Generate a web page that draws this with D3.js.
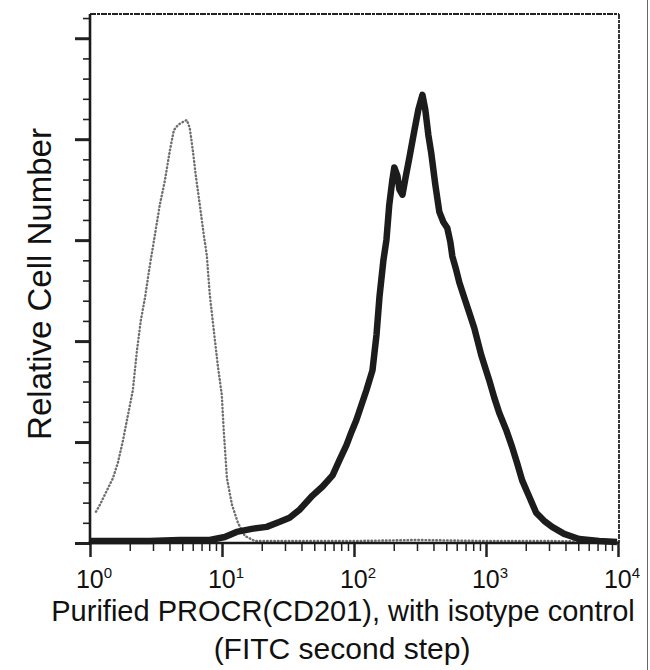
<!DOCTYPE html>
<html>
<head>
<meta charset="utf-8">
<script src="https://cdn.jsdelivr.net/npm/d3@7"></script>
<style>
  html, body { margin: 0; padding: 0; background: #fff; }
  svg { display: block; }
  text { font-family: "Liberation Sans", Arial, sans-serif; fill: #111; }
</style>
</head>
<body>
<svg id="chart" width="650" height="670"></svg>
<script>
// ---- Data ----
const xLabel1 = "Purified PROCR(CD201), with isotype control";
const xLabel2 = "(FITC second step)";
const yLabel = "Relative Cell Number";
const xTickValues = [1, 10, 100, 1000, 10000];
const xTickExponents = ["0", "1", "2", "3", "4"];
const yMajorTicks = [0, 1, 2, 3, 4, 5];

// Stained sample (black, thick)
const stainedX = [1, 1.69, 2.84, 4.79, 8.08, 10.5, 12.9, 16.8, 21.8, 27.4, 32.5, 38.7, 48.5, 57.8, 68.8, 77.6, 87.7, 95.7, 104.4, 114, 124, 138, 148, 156, 167, 176, 185, 195, 202, 213, 221, 233, 245, 263, 287, 307, 330, 347, 366, 385, 413, 443, 475, 509, 537, 556, 596, 628, 685, 747, 815, 921, 1059, 1155, 1259, 1422, 1578, 1722, 1879, 2123, 2399, 2756, 3168, 3908, 5072, 7183, 9825];
const stainedY = [0.02, 0.02, 0.02, 0.03, 0.03, 0.06, 0.11, 0.14, 0.16, 0.21, 0.25, 0.33, 0.47, 0.56, 0.67, 0.82, 0.97, 1.10, 1.22, 1.37, 1.51, 1.71, 2.06, 2.44, 2.80, 3.00, 3.35, 3.59, 3.72, 3.64, 3.50, 3.45, 3.61, 3.82, 4.09, 4.29, 4.44, 4.29, 4.04, 3.86, 3.55, 3.28, 3.18, 3.12, 2.98, 2.84, 2.70, 2.58, 2.43, 2.28, 2.13, 1.86, 1.61, 1.44, 1.29, 1.12, 0.95, 0.79, 0.62, 0.46, 0.30, 0.22, 0.16, 0.09, 0.04, 0.02, 0.01];

// Isotype control (grey, dotted)
const isoX = [1.11, 1.19, 1.32, 1.49, 1.63, 1.78, 1.94, 2.11, 2.27, 2.43, 2.61, 2.84, 3.10, 3.38, 3.69, 4.03, 4.32, 4.63, 5.05, 5.41, 5.70, 6.01, 6.33, 6.79, 7.28, 7.67, 8.08, 8.66, 9.29, 9.96, 10.3, 10.9, 11.9, 13.2, 14.9, 17.7, 30, 100, 300, 1000, 3000, 9800];
const isoY = [0.31, 0.38, 0.50, 0.64, 0.80, 1.02, 1.27, 1.51, 1.91, 2.21, 2.43, 2.75, 3.05, 3.35, 3.59, 3.89, 4.09, 4.14, 4.17, 4.19, 4.11, 3.89, 3.64, 3.35, 3.05, 2.85, 2.46, 2.11, 1.76, 1.47, 1.12, 0.64, 0.38, 0.20, 0.07, 0.02, 0.02, 0.02, 0.03, 0.02, 0.02, 0.01];

// ---- Layout ----
const svg = d3.select("#chart");
const L = 90, R = 618, T = 14, B = 543;

const x = d3.scaleLog().domain([1, 10000]).range([L, R]);
const y = d3.scaleLinear().domain([0, 5.24]).range([B, T]);

// frame top and right (thin, slightly broken)
svg.append("line").attr("x1", L).attr("x2", R + 1).attr("y1", T).attr("y2", T)
  .attr("stroke", "#222").attr("stroke-width", 1.8).attr("stroke-dasharray", "6,1,3,1");
svg.append("line").attr("x1", R + 1).attr("x2", R + 1).attr("y1", T).attr("y2", B)
  .attr("stroke", "#222").attr("stroke-width", 1.8).attr("stroke-dasharray", "5,1,3,1");

// image border at far right
svg.append("line").attr("x1", 647.5).attr("x2", 647.5).attr("y1", 0).attr("y2", 670)
  .attr("stroke", "#666").attr("stroke-width", 1);

// isotype curve
const line = d3.line().x(d => x(d[0])).y(d => y(d[1])).curve(d3.curveLinear);
svg.append("path")
  .datum(isoX.map((v, i) => [v, isoY[i]]))
  .attr("d", line)
  .attr("fill", "none")
  .attr("stroke", "#6e6e6e")
  .attr("stroke-width", 2.4)
  .attr("stroke-linecap", "round")
  .attr("stroke-dasharray", "0.6,3");

// stained curve
svg.append("path")
  .datum(stainedX.map((v, i) => [v, stainedY[i]]))
  .attr("d", line)
  .attr("fill", "none")
  .attr("stroke", "#1c1c1c")
  .attr("stroke-width", 6.5)
  .attr("stroke-linejoin", "round");

// X axis
const xMinor = [];
for (let e = 0; e < 4; e++) for (let k = 2; k <= 9; k++) xMinor.push(k * Math.pow(10, e));
const xAxisMinor = d3.axisBottom(x).tickValues(xMinor).tickSize(8).tickFormat("");
const xAxisMajor = d3.axisBottom(x).tickValues(xTickValues).tickSize(14).tickFormat("");
const gxm = svg.append("g").attr("transform", `translate(0,${B})`).call(xAxisMinor);
const gxM = svg.append("g").attr("transform", `translate(0,${B})`).call(xAxisMajor);
[gxm, gxM].forEach(g => {
  g.select(".domain").remove();
  g.selectAll(".tick line").attr("stroke", "#222");
});
gxm.selectAll(".tick line").attr("stroke-width", 1.5);
gxM.selectAll(".tick line").attr("stroke-width", 2.5);
svg.append("line").attr("x1", L - 2).attr("x2", R + 1).attr("y1", B).attr("y2", B)
  .attr("stroke", "#1a1a1a").attr("stroke-width", 2.6);

// X tick labels: 10 with superscript exponent
xTickValues.forEach((v, i) => {
  const t = svg.append("text")
    .attr("x", x(v) + 4)
    .attr("y", 588)
    .attr("text-anchor", "middle")
    .attr("font-size", 25);
  t.append("tspan").text("10");
  t.append("tspan").attr("dy", -10).attr("font-size", 15).text(xTickExponents[i]);
});

// Y axis
const yMinor = d3.range(0, 5.21, 0.2).filter(v => Math.abs(v - Math.round(v)) > 0.01);
const yAxisMinor = d3.axisLeft(y).tickValues(yMinor).tickSize(7).tickFormat("");
const yAxisMajor = d3.axisLeft(y).tickValues(yMajorTicks).tickSize(15).tickFormat("");
const gym = svg.append("g").attr("transform", `translate(${L},0)`).call(yAxisMinor);
const gyM = svg.append("g").attr("transform", `translate(${L},0)`).call(yAxisMajor);
[gym, gyM].forEach(g => {
  g.select(".domain").remove();
  g.selectAll(".tick line").attr("stroke", "#222");
});
gym.selectAll(".tick line").attr("stroke-width", 1.6);
gyM.selectAll(".tick line").attr("stroke-width", 3);
svg.append("line").attr("x1", L).attr("x2", L).attr("y1", T).attr("y2", B + 2)
  .attr("stroke", "#1a1a1a").attr("stroke-width", 2.6);

// Axis titles
svg.append("text")
  .attr("x", 343).attr("y", 621)
  .attr("text-anchor", "middle")
  .attr("font-size", 29)
  .text(xLabel1);
svg.append("text")
  .attr("x", 342).attr("y", 659)
  .attr("text-anchor", "middle")
  .attr("font-size", 30)
  .text(xLabel2);
svg.append("text")
  .attr("transform", "translate(51,284) rotate(-90)")
  .attr("text-anchor", "middle")
  .attr("font-size", 33)
  .text(yLabel);
</script>
</body>
</html>
